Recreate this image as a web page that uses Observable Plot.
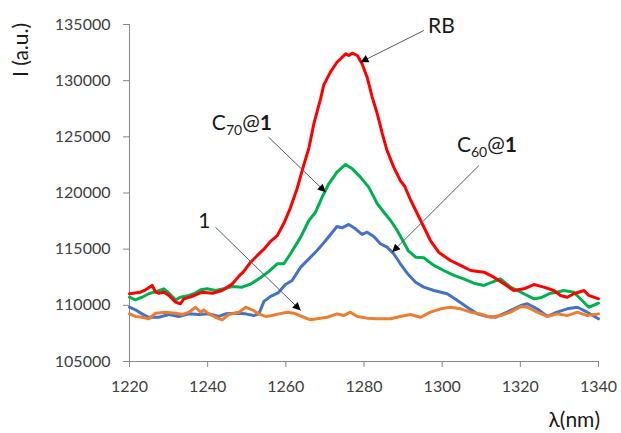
<!DOCTYPE html>
<html><head><meta charset="utf-8">
<script src="https://cdn.jsdelivr.net/npm/d3@7"></script>
<script src="https://cdn.jsdelivr.net/npm/@observablehq/plot@0.6"></script>
<style>
body{margin:0;background:#fff;font-family:Lato,sans-serif}
#chart{width:621px;height:433px;overflow:hidden}
</style>
</head><body><div id="chart"></div>
<script>
// ---- data ----
const rbLambda = [1220,1222.8,1224.1,1225.8,1226.7,1227.5,1228.8,1230.1,1231.8,1233.0,1233.9,1236.0,1238.6,1241.2,1243.7,1245.0,1246.3,1248.0,1249.2,1251.0,1252.7,1254.4,1256.1,1257.8,1259.5,1261.2,1262.9,1264.6,1265.9,1267.2,1268.9,1269.7,1271.4,1273.1,1275.3,1276.1,1277.0,1278.3,1279.5,1280.8,1282.1,1283.4,1284.7,1285.9,1287.6,1289.3,1290.4,1291.9,1294.5,1297.0,1299.1,1302.1,1304.7,1307.3,1310.7,1313.2,1315.8,1318.3,1320.9,1323.5,1326.0,1328.6,1330.3,1332.0,1333.7,1336.3,1337.5,1340];
const rbI = [111030,111170,111380,111770,111170,111080,111170,110880,110280,110140,110580,110790,111170,111080,111320,111620,111900,112600,113000,113840,114440,115000,115700,116200,117300,118700,120400,122500,124000,126200,128400,129600,130760,131640,132390,132240,132450,132240,131500,130310,128530,127050,125270,123780,122300,121110,120600,119400,117550,115770,114730,113990,113550,113100,112950,112510,111920,111320,111470,111850,111620,111320,110880,110720,111030,111320,110880,110580];

const c70Lambda = [1220,1221.5,1223.2,1224.9,1227.1,1228.8,1230.1,1231.8,1233.0,1235.2,1236.5,1238.2,1239.9,1242.0,1244.1,1246.3,1248.8,1251.0,1253.5,1255.6,1257.8,1259.5,1261.2,1263.8,1265.9,1267.6,1269.3,1271.0,1273.1,1275.3,1277.0,1279.1,1281.2,1283.4,1285.1,1286.8,1288.5,1290.2,1291.3,1293.2,1295.3,1297.9,1300.4,1303.0,1305.5,1308.1,1310.7,1312.8,1314.9,1317.5,1320.9,1323.5,1325.2,1327.7,1329.4,1331.1,1333.7,1335.8,1337.5,1340];
const c70I = [110720,110490,110720,111030,111260,111470,111080,110490,110720,110880,111030,111380,111470,111320,111470,111680,111620,111900,112450,113000,113700,113700,114590,116070,117550,118290,119630,120820,121850,122540,122150,121410,120520,119040,118290,117550,116660,115600,114880,114290,114230,113550,113100,112660,112360,111970,111770,112060,112360,111620,111030,110580,110670,111080,111170,111320,111170,110430,109830,110190];

const c60Lambda = [1220,1221.5,1223.2,1224.9,1227.5,1230.1,1232.6,1235.2,1237.7,1240.3,1242.9,1244.6,1247.1,1249.7,1251.8,1253.1,1254.4,1256.1,1258.0,1259.9,1261.6,1263.8,1265.9,1268.0,1270.2,1271.9,1273.1,1274.4,1276.1,1277.8,1279.5,1280.8,1282.5,1284.2,1285.9,1287.6,1289.3,1291.0,1293.2,1295.3,1297.9,1301.3,1303.9,1306.4,1309.0,1311.5,1313.7,1316.6,1320.1,1321.8,1324.3,1326.9,1329.4,1332.0,1334.6,1337.1,1340];
const c60I = [109830,109600,109240,108940,108940,109180,109010,109240,109180,109240,109010,109240,109300,109240,109090,109240,110350,110800,111100,111850,112210,113400,114140,114880,115770,116510,117020,116900,117200,116810,116310,116510,116130,115480,115180,114590,113700,112880,112060,111620,111320,111030,110430,109830,109240,109010,108940,109390,109980,110140,109690,109010,109390,109690,109830,109390,108800];

const oneLambda = [1220,1221.5,1223.2,1224.9,1226.7,1229.2,1231.8,1233.5,1235.2,1236.9,1238.2,1239.0,1240.3,1242.0,1243.7,1245.4,1248.0,1249.7,1251.4,1253.1,1254.8,1256.5,1258.2,1260.4,1262.0,1264.6,1266.3,1268.0,1270.6,1273.1,1274.8,1276.5,1278.3,1280.8,1283.4,1286.8,1289.3,1291.9,1294.5,1297.0,1299.6,1302.1,1304.7,1307.3,1309.8,1312.4,1314.9,1317.5,1320.1,1321.8,1324.3,1326.9,1329.4,1332.0,1334.6,1337.1,1340];
const oneI = [109240,109010,108940,108800,109300,109390,109300,109180,109390,109830,109390,109600,109240,108940,108710,109180,109390,109830,109600,109240,109010,109090,109240,109390,109300,108940,108710,108800,108940,109240,109090,109390,109010,108860,108800,108800,109010,109180,108940,109390,109690,109830,109690,109390,109240,108940,109090,109390,109890,109830,109390,109010,109240,109090,109390,109090,109240];

const seriesNames  = ["C60@1", "C70@1", "RB", "1"];
const seriesColors = ["#4472C4", "#00B050", "#FF0000", "#ED7D31"];

const xTicks = [1220, 1240, 1260, 1280, 1300, 1320, 1340];
const yTicks = [105000, 110000, 115000, 120000, 125000, 130000, 135000];

// annotation labels and arrows (data units)
const annotText  = ["RB", "C70@1", "C60@1", "1"];
const annotX     = [1296.5, 1241.2, 1303.9, 1237.7];
const annotY     = [134199, 125564, 123605, 116840];
const arrowX1    = [1295.3, 1255.6, 1309.4, 1242.0];
const arrowY1    = [134466, 124967, 122448, 116956];
const arrowX2    = [1279.1, 1270.2, 1287.2, 1263.8];
const arrowY2    = [131644, 120071, 114730, 109540];

// ---- build tables ----
const lambdas = [c60Lambda, c70Lambda, rbLambda, oneLambda];
const intens  = [c60I, c70I, rbI, oneI];
const rows = [];
seriesNames.forEach((s, k) => lambdas[k].forEach((l, i) => rows.push({series: s, lambda: l, I: intens[k][i]})));
const arrows = annotText.map((t, i) => ({x1: arrowX1[i], y1: arrowY1[i], x2: arrowX2[i], y2: arrowY2[i]}));

const axisColor = "#868686";
const textColor = "#404040";

const plot = Plot.plot({
  width: 621, height: 433,
  marginLeft: 129, marginRight: 23, marginTop: 24, marginBottom: 72,
  style: {fontFamily: "Lato, sans-serif", fontSize: "16px", color: textColor, background: "#fff"},
  x: {domain: [1220, 1340]},
  y: {domain: [105000, 135000]},
  color: {domain: seriesNames, range: seriesColors},
  marks: [
    Plot.axisX({ticks: xTicks, tickSize: 6, tickPadding: 13, tickFormat: d3.format("d"), label: null, stroke: axisColor, fill: textColor, fontSize: 16}),
    Plot.axisY({ticks: yTicks, tickSize: 6, tickPadding: 13, tickFormat: d3.format("d"), label: null, stroke: axisColor, fill: textColor, fontSize: 16}),
    Plot.ruleX([1220], {stroke: axisColor, strokeWidth: 1}),
    Plot.ruleY([105000], {stroke: axisColor, strokeWidth: 1}),
    Plot.line(rows, {x: "lambda", y: "I", z: "series", stroke: "series", strokeWidth: 3, strokeLinejoin: "round", strokeLinecap: "round"}),
    Plot.link(arrows, {x1: "x1", y1: "y1", x2: "x2", y2: "y2", stroke: "#595959", strokeWidth: 1})
  ]
});

document.getElementById("chart").appendChild(plot);

// ---- post-processing: arrowheads, rich-text labels, axis titles ----
const svg = d3.select(plot);
const sx = plot.scale("x"), sy = plot.scale("y");

const defs = svg.append("defs");
defs.append("marker")
  .attr("id", "ah").attr("viewBox", "0 0 10 10")
  .attr("refX", 10).attr("refY", 5)
  .attr("markerWidth", 10).attr("markerHeight", 8)
  .attr("markerUnits", "userSpaceOnUse").attr("orient", "auto")
  .append("path").attr("d", "M0,0L10,5L0,10z").attr("fill", "#000");
svg.selectAll('g[aria-label="link"] path').attr("marker-end", "url(#ah)");

const lab = svg.append("g")
  .attr("font-family", "Lato, sans-serif").attr("font-size", 21)
  .attr("fill", "#1a1a1a").attr("text-anchor", "start");
annotText.forEach((t, i) => {
  const tx = lab.append("text").attr("x", sx.apply(annotX[i])).attr("y", sy.apply(annotY[i]));
  const m = t.match(/^C(\d+)@(\d)$/);
  if (m) {
    tx.append("tspan").text("C");
    tx.append("tspan").attr("font-size", 14).attr("dy", 5).text(m[1]);
    tx.append("tspan").attr("dy", -5).text("@");
    tx.append("tspan").attr("font-weight", "bold").text(m[2]);
  } else {
    tx.text(t);
  }
});

// axis titles
svg.append("text")
  .attr("transform", "translate(28,50) rotate(-90)")
  .attr("text-anchor", "middle")
  .attr("font-family", "Lato, sans-serif").attr("font-size", 21).attr("fill", "#1a1a1a")
  .text("I (a.u.)");
svg.append("text")
  .attr("x", 600).attr("y", 427)
  .attr("text-anchor", "end")
  .attr("font-family", "Lato, sans-serif").attr("font-size", 21).attr("fill", "#1a1a1a")
  .text("λ(nm)");
</script>
</body></html>
